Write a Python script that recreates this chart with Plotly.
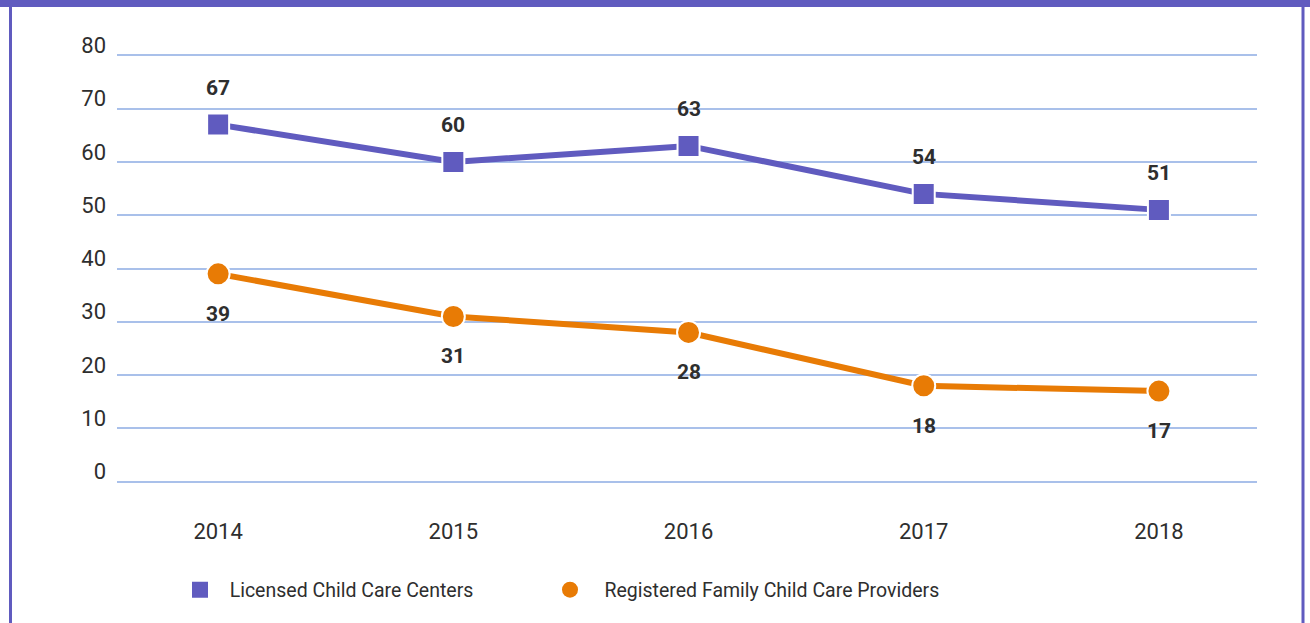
import plotly.graph_objects as go

years = ["2014", "2015", "2016", "2017", "2018"]
centers = [67, 60, 63, 54, 51]
providers = [39, 31, 28, 18, 17]
y_ticks = [0, 10, 20, 30, 40, 50, 60, 70, 80]

PURPLE = "#605bbf"
ORANGE = "#e87b05"
GRID = "#a9c0ea"
TXT = "#2e2e2e"
FONT = "Roboto, Liberation Sans, sans-serif"

W, H = 1310, 623
ML, MR, MT, MB = 117, 53, 50, 136
PW, PH = W - ML - MR, H - MT - MB

xs = list(range(len(years)))

fig = go.Figure()
fig.add_trace(go.Scatter(
    x=xs, y=centers, mode="lines+markers", showlegend=False,
    line=dict(color=PURPLE, width=6),
    marker=dict(symbol="square", size=22, color=PURPLE, line=dict(color="white", width=2)),
    hoverinfo="skip"))
fig.add_trace(go.Scatter(
    x=xs, y=providers, mode="lines+markers", showlegend=False,
    line=dict(color=ORANGE, width=6),
    marker=dict(symbol="circle", size=23, color=ORANGE, line=dict(color="white", width=2)),
    hoverinfo="skip"))
# legend-only entries
fig.add_trace(go.Scatter(
    x=[None], y=[None], mode="markers", name="\u00a0\u00a0Licensed Child Care Centers",
    marker=dict(symbol="square", size=20, color=PURPLE), legend="legend"))
fig.add_trace(go.Scatter(
    x=[None], y=[None], mode="markers", name="\u00a0\u00a0\u00a0Registered Family Child Care Providers",
    marker=dict(symbol="circle", size=20, color=ORANGE), legend="legend2"))

for x, v in zip(xs, centers):
    fig.add_annotation(x=x, y=v, text=f"<b>{v}</b>", showarrow=False, yshift=37,
                       font=dict(size=21, color=TXT, family=FONT))
for x, v in zip(xs, providers):
    fig.add_annotation(x=x, y=v, text=f"<b>{v}</b>", showarrow=False, yshift=-40,
                       font=dict(size=21, color=TXT, family=FONT))

def px_x(p):
    return (p - ML) / PW

def px_y(p):
    return (H - MB - p) / PH

# decorative frame
fig.add_shape(type="rect", xref="paper", yref="paper",
              x0=px_x(0), x1=px_x(W), y0=px_y(7), y1=px_y(0),
              fillcolor=PURPLE, line=dict(width=0), layer="above")
fig.add_shape(type="line", xref="paper", yref="paper",
              x0=px_x(10.5), x1=px_x(10.5), y0=px_y(7), y1=px_y(H),
              line=dict(color=PURPLE, width=3))
fig.add_shape(type="line", xref="paper", yref="paper",
              x0=px_x(1303), x1=px_x(1303), y0=px_y(7), y1=px_y(H),
              line=dict(color=PURPLE, width=3))

legend_style = dict(orientation="h", xanchor="left", y=px_y(590), yanchor="middle",
                    font=dict(size=19.5, color=TXT, family=FONT), itemsizing="trace",
                    bgcolor="rgba(0,0,0,0)")

fig.update_layout(
    width=W, height=H,
    margin=dict(l=ML, r=MR, t=MT, b=MB),
    paper_bgcolor="white", plot_bgcolor="white",
    font=dict(family=FONT, color=TXT, size=21),
    legend=dict(x=px_x(180), **legend_style),
    legend2=dict(x=px_x(550), **legend_style),
    xaxis=dict(tickmode="array", tickvals=xs, ticktext=years,
               range=[-0.43, len(years) - 1 + 0.417], showgrid=False, zeroline=False,
               showline=False, ticks="", ticklabelstandoff=29,
               tickfont=dict(size=22, color=TXT, family=FONT)),
    yaxis=dict(tickmode="array", tickvals=y_ticks, ticktext=[str(t) for t in y_ticks],
               range=[-1, 81], showgrid=True, gridcolor=GRID, gridwidth=1.5,
               zeroline=False, showline=False,
               ticks="", ticklabelstandoff=10, ticklabelshift=-10,
               tickfont=dict(size=22, color=TXT, family=FONT)),
)

fig.write_html("out.html", config={"displayModeBar": False},
               post_script="document.body.style.margin='0';document.body.style.overflow='hidden';")
